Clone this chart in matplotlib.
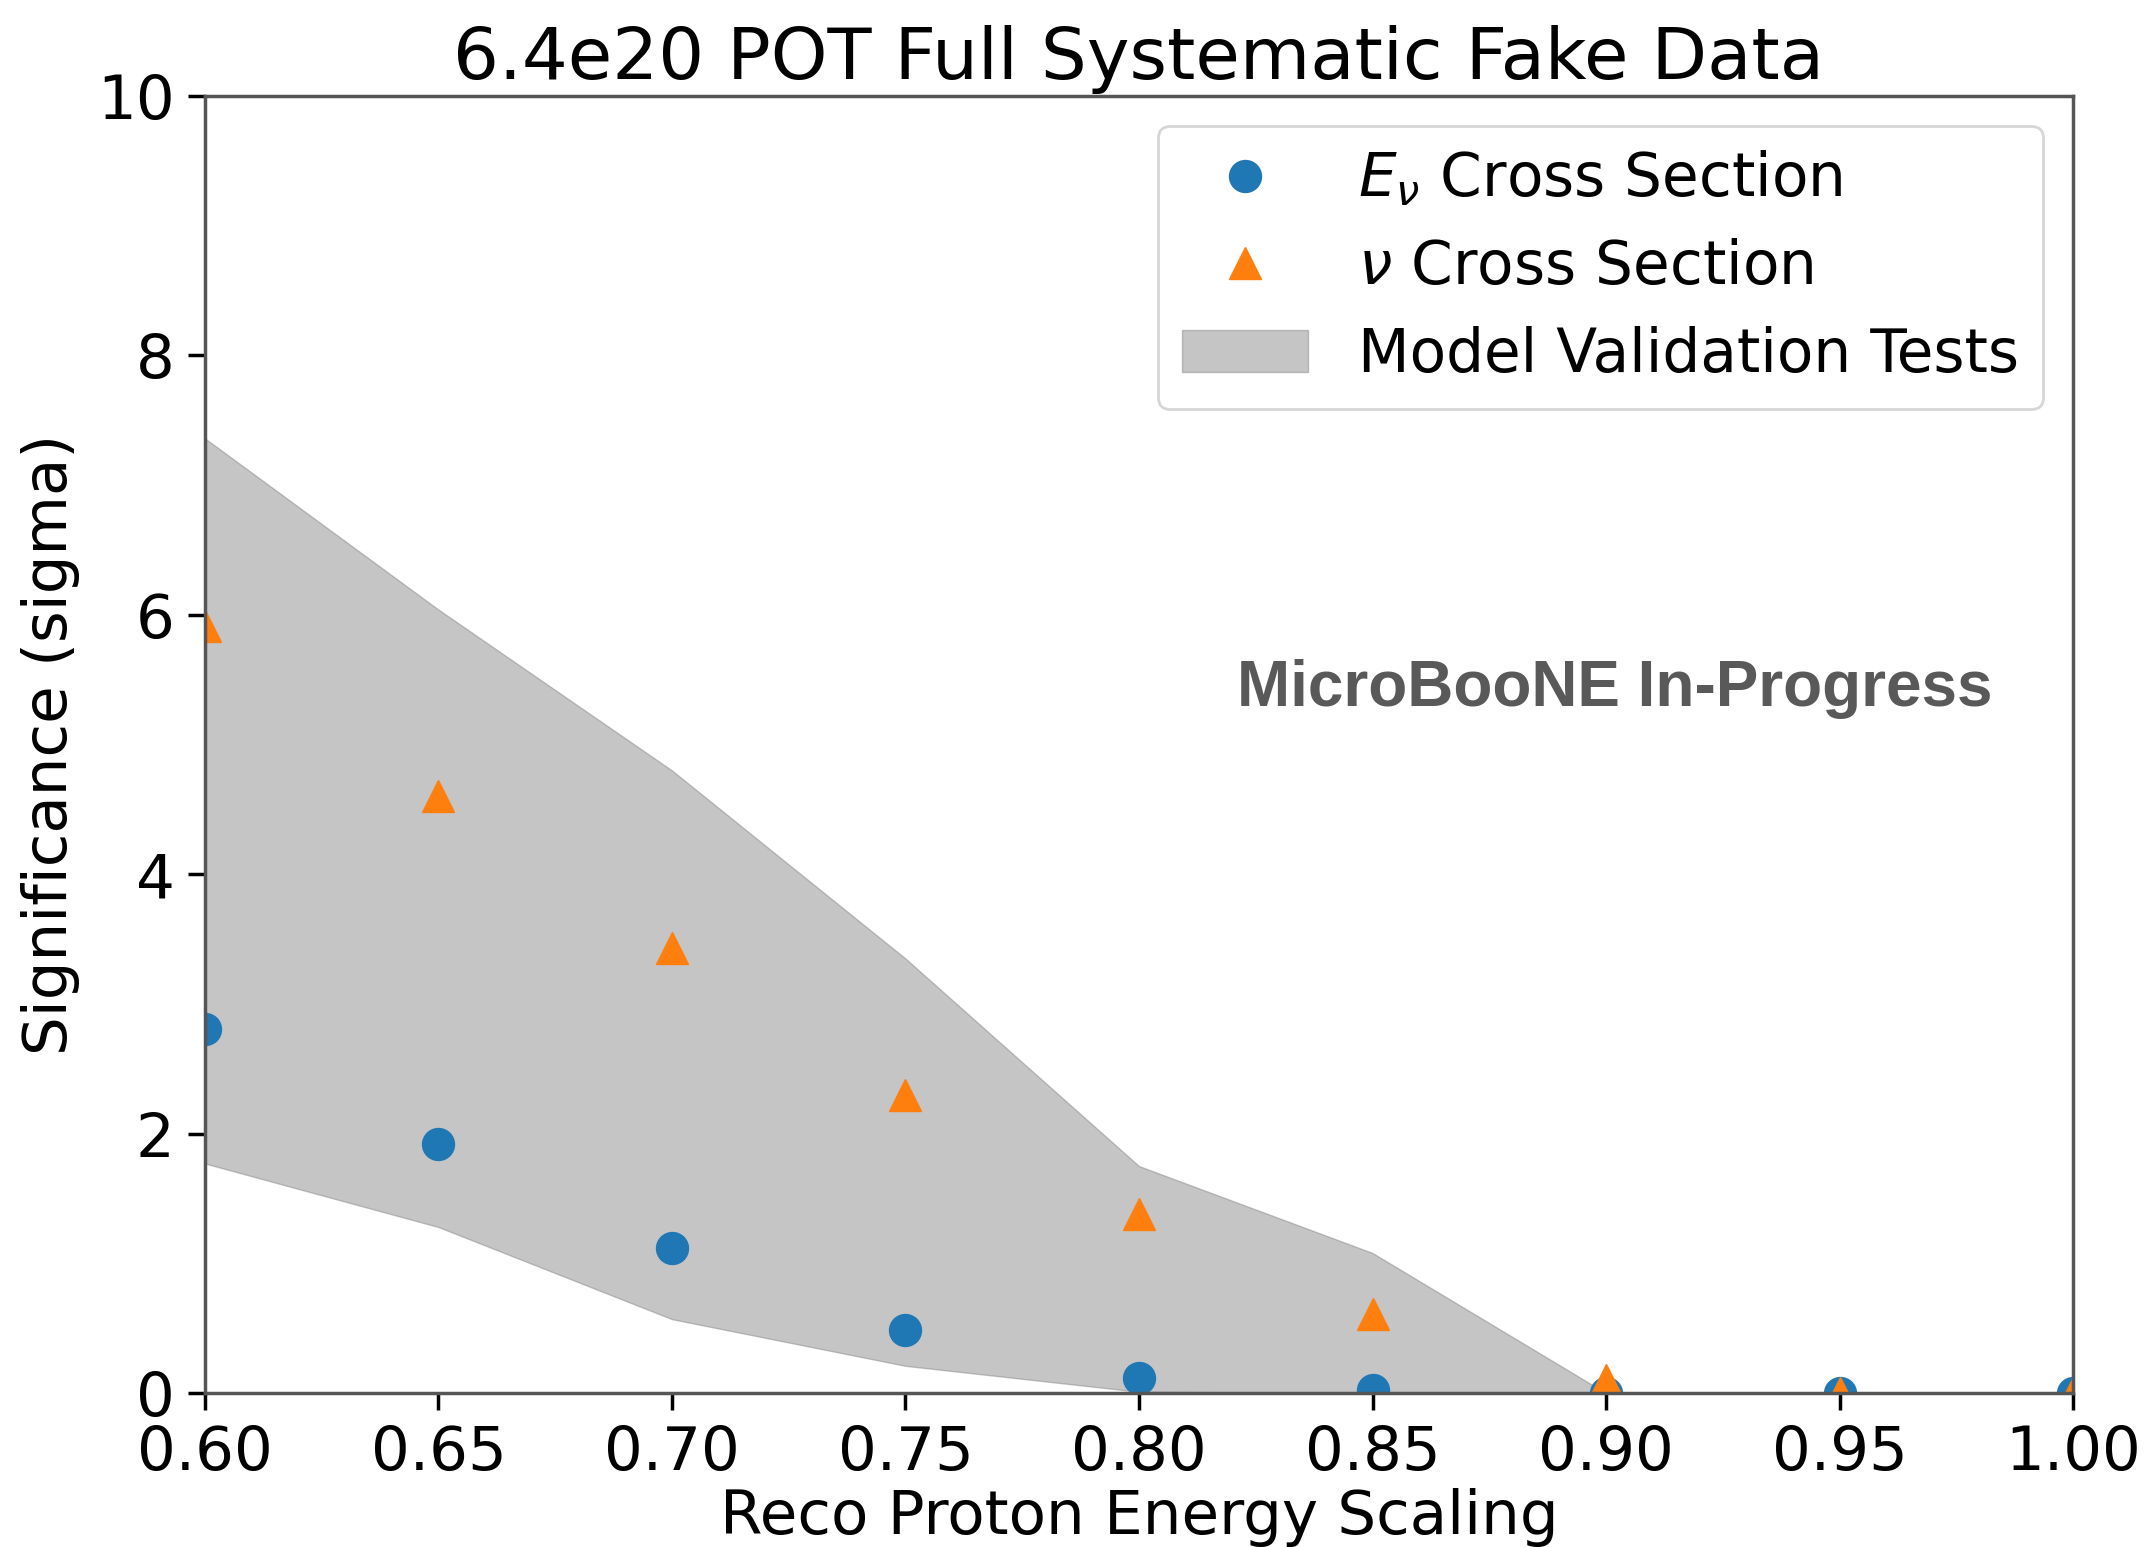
import numpy as np
import matplotlib
matplotlib.use('Agg')
import matplotlib.pyplot as plt

# data
scaling = [0.60, 0.65, 0.70, 0.75, 0.80, 0.85, 0.90, 0.95, 1.00]
sig_enu = [2.81, 1.92, 1.12, 0.49, 0.12, 0.02, 0.0, 0.0, 0.0]
sig_nu = [5.91, 4.60, 3.43, 2.30, 1.38, 0.61, 0.10, 0.0, 0.0]
band_hi = [7.36, 6.04, 4.80, 3.35, 1.75, 1.08, 0.0, 0.0, 0.0]
band_lo = [1.77, 1.28, 0.57, 0.21, 0.01, 0.0, 0.0, 0.0, 0.0]

plt.rcParams['font.family'] = ['DejaVu Sans']
fs = 44

fig = plt.figure(figsize=(21.46, 15.47), dpi=100)
ax = fig.add_axes([0.0955, 0.0995, 0.8705, 0.8385])

ax.fill_between(scaling, band_lo, band_hi, color='grey', alpha=0.45,
                label='Model Validation Tests')
ax.plot(scaling, sig_enu, 'o', color='#1f77b4', markersize=23,
        label=r'$E_\nu$ Cross Section')
ax.plot(scaling, sig_nu, '^', color='#ff7f0e', markersize=23,
        label=r'$\nu$ Cross Section')

ax.set_xlim(0.6, 1.0)
ax.set_ylim(0, 10)
ax.set_xticks([0.60, 0.65, 0.70, 0.75, 0.80, 0.85, 0.90, 0.95, 1.00])
ax.set_yticks([0, 2, 4, 6, 8, 10])
ax.tick_params(labelsize=fs, length=12, width=2.5, pad=10)
for s in ax.spines.values():
    s.set_linewidth(2.5)
    s.set_color('#555555')

ax.set_xlabel('Reco Proton Energy Scaling', fontsize=fs, labelpad=4)
ax.set_ylabel('Significance (sigma)', fontsize=fs, labelpad=12)
ax.set_title('6.4e20 POT Full Systematic Fake Data', fontsize=52, pad=12)

h, l = ax.get_legend_handles_labels()
leg = ax.legend([h[1], h[2], h[0]], [l[1], l[2], l[0]], loc='upper right',
                fontsize=43, borderpad=0.4, labelspacing=0.48,
                handlelength=2.1, handletextpad=0.85, borderaxespad=0.5)
leg.get_frame().set_linewidth(2)

ax.text(0.7546, 0.543, 'MicroBooNE In-Progress', transform=ax.transAxes,
        ha='center', va='center', fontsize=46, fontweight='bold',
        color='#595959', family=['Liberation Sans', 'DejaVu Sans'])

fig.savefig('out.png', dpi=100)
